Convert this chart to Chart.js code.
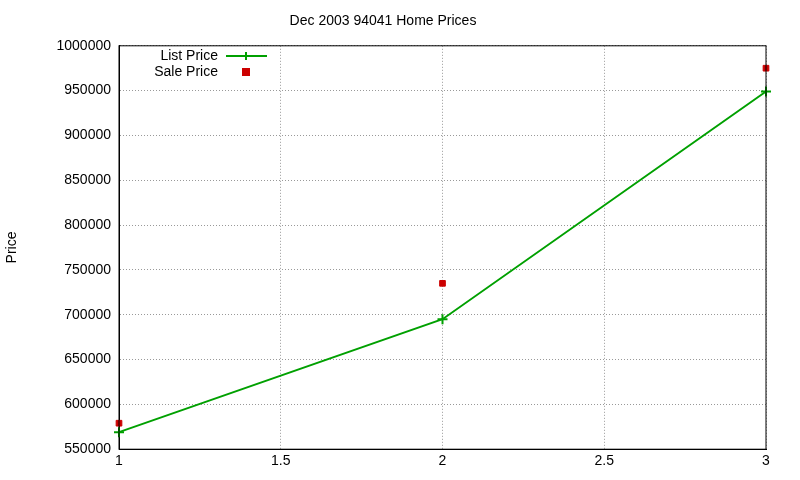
<!DOCTYPE html>
<html>
<head>
<script src="https://cdn.jsdelivr.net/npm/chart.js@4"></script>
<style>
  body { margin: 0; background: #fff; }
  #wrap { width: 800px; height: 480px; }
</style>
</head>
<body>
<div id="wrap"><canvas id="chart"></canvas></div>
<script>
const xValues = [1, 2, 3];
const listPrice = [569000, 695000, 949000];
const salePrice = [579000, 735000, 975000];

Chart.defaults.font.family = "'Liberation Sans', Arial, sans-serif";
Chart.defaults.font.size = 14;
Chart.defaults.color = '#000';

// gnuplot-style legend: label right-aligned, sample to the right
const gnuLegend = {
  id: 'gnuLegend',
  afterDraw(chart) {
    const c = chart.ctx;
    const rows = [
      { text: 'List Price', kind: 'line' },
      { text: 'Sale Price', kind: 'box' }
    ];
    c.save();
    c.font = "14px 'Liberation Sans', Arial, sans-serif";
    c.textAlign = 'right';
    c.textBaseline = 'middle';
    rows.forEach((r, i) => {
      const y = 56 + i * 16;
      c.fillStyle = '#000';
      c.fillText(r.text, 218, y);
      if (r.kind === 'line') {
        c.strokeStyle = '#00a000';
        c.lineWidth = 2;
        c.beginPath(); c.moveTo(226, y); c.lineTo(267, y); c.stroke();
        c.beginPath(); c.moveTo(246, y - 4); c.lineTo(246, y + 4); c.stroke();
      } else {
        c.fillStyle = '#cc0000';
        c.fillRect(242, y - 4, 8, 8);
      }
    });
    c.restore();
  }
};

new Chart(document.getElementById('chart'), {
  type: 'scatter',
  data: {
    datasets: [
      {
        label: 'List Price',
        data: xValues.map((x, i) => ({ x, y: listPrice[i] })),
        showLine: true,
        clip: false,
        borderColor: '#00a000',
        backgroundColor: '#00a000',
        borderWidth: 2,
        pointStyle: 'cross',
        pointRadius: 5,
        pointBorderWidth: 2
      },
      {
        label: 'Sale Price',
        data: xValues.map((x, i) => ({ x, y: salePrice[i] })),
        clip: false,
        borderColor: '#cc0000',
        backgroundColor: '#cc0000',
        pointStyle: 'rect',
        pointRadius: 4
      }
    ]
  },
  options: {
    responsive: true,
    maintainAspectRatio: false,
    animation: false,
    layout: { padding: { left: 0, right: 34, top: 7, bottom: 6 } },
    plugins: {
      legend: { display: false },
      tooltip: { enabled: false },
      title: {
        display: true,
        text: 'Dec 2003 94041 Home Prices',
        font: { size: 14, weight: 'normal' },
        padding: { top: 6, bottom: 16 }
      }
    },
    scales: {
      x: {
        type: 'linear',
        min: 1, max: 3,
        ticks: { stepSize: 0.5, padding: 4, callback: v => String(v) },
        grid: { color: '#999', tickLength: 0 },
        border: { color: '#000', width: 1, dash: [1, 2] }
      },
      y: {
        min: 550000, max: 1000000,
        afterFit(s) { s.width = 119; },
        ticks: { stepSize: 50000, padding: 8, callback: v => String(v) },
        title: { display: true, text: 'Price', font: { size: 14 } },
        grid: { color: '#999', tickLength: 0 },
        border: { color: '#000', width: 1, dash: [1, 2] }
      }
    }
  },
  plugins: [gnuLegend, {
    id: 'frame',
    afterDraw(chart) {
      const a = chart.chartArea, c = chart.ctx;
      c.save();
      c.strokeStyle = '#000'; c.lineWidth = 1;
      c.strokeRect(a.left, a.top, a.right - a.left, a.bottom - a.top);
      c.restore();
    }
  }]
});
</script>
</body>
</html>
